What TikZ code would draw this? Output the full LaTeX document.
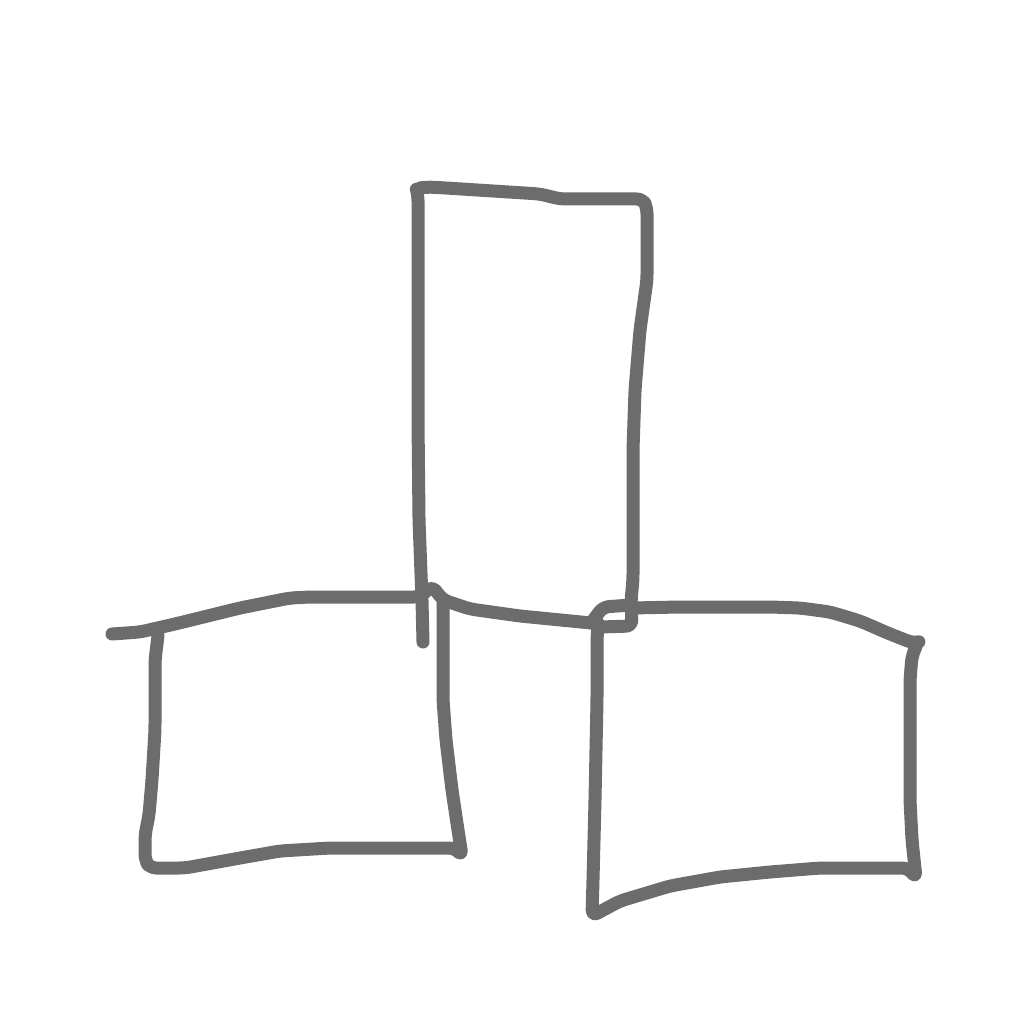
\documentclass[tikz,border=0pt]{standalone}
\begin{document}
\begin{tikzpicture}[x=1pt,y=-1pt,
  stroke/.style={draw=sk,line width=13pt,line cap=round,line join=round,rounded corners=6pt}]
\definecolor{sk}{RGB}{108,108,108}
\useasboundingbox (0,0) rectangle (1024,1024);
% tall rectangle
\draw[stroke] (423,642) -- (422,600) -- (419,520) -- (418,420) -- (418,300) -- (418,195) -- (416,188) -- (430,187) -- (540,194) -- (560,199) -- (643,199) -- (647,208) -- (647,280) -- (640,330) -- (635,390) -- (633,450) -- (633,580) -- (631,600) -- (632,626) -- (600,627);
\draw[stroke] (591,623) -- (603,607) -- (631,605);
% left square
\draw[stroke] (112,634) -- (140,632) -- (175,624) -- (240,608) -- (290,598) -- (310,597) -- (420,597) -- (432,586) -- (443,600) -- (470,609) -- (520,616) -- (591,623);
\draw[stroke] (443,600) -- (443,700) -- (446,740) -- (452,790) -- (458,830) -- (462,856) -- (455,848) -- (330,848) -- (280,851) -- (240,858) -- (185,868) -- (150,868) -- (145,860) -- (145,835) -- (149,815) -- (152,780) -- (155,730) -- (155,660) -- (158,636);
% right square
\draw[stroke] (631,608) -- (680,607) -- (770,607) -- (800,608) -- (830,612) -- (860,621) -- (890,634) -- (913,643) -- (918,642) -- (912,656) -- (910,680) -- (910,800) -- (912,840) -- (916,878) -- (908,868) -- (820,868) -- (770,872) -- (720,877) -- (670,886) -- (620,901) -- (592,916) -- (593,880) -- (595,800) -- (597,700) -- (597,640) -- (598,623);
\end{tikzpicture}
\end{document}
